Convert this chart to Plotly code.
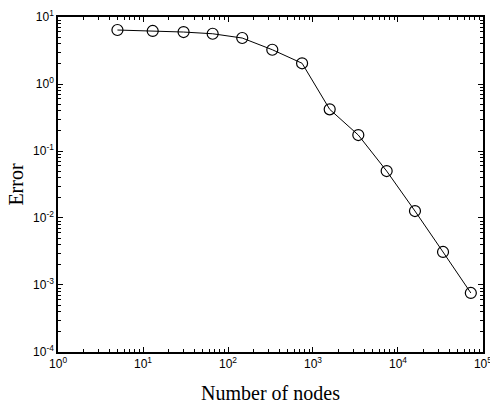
import plotly.graph_objects as go

nodes = [5, 13, 30, 66, 147, 332, 744, 1572, 3414, 7360, 15850, 33900, 72000]
error = [6.4, 6.2, 5.97, 5.63, 4.86, 3.25, 2.04, 0.419, 0.173, 0.0502, 0.0127, 0.00311, 0.00076]

x_tick_exp = [0, 1, 2, 3, 4, 5]
y_tick_exp = [-4, -3, -2, -1, 0, 1]

x_title = "Number of nodes"
y_title = "Error"

fig = go.Figure()
fig.add_trace(go.Scatter(
    x=nodes, y=error, mode="lines+markers",
    line=dict(color="black", width=1),
    marker=dict(symbol="circle-open", size=11, color="black", line=dict(width=1.2, color="black")),
    showlegend=False,
    cliponaxis=False,
))

def axis_common(exps):
    return dict(
        type="log",
        tickmode="array",
        tickvals=[10.0 ** e for e in exps],
        ticktext=["10<sup>%d</sup>" % e for e in exps],
        ticks="inside",
        ticklen=5,
        tickwidth=1,
        tickcolor="black",
        showline=True,
        linecolor="black",
        linewidth=1.5,
        mirror="allticks",
        showgrid=False,
        zeroline=False,
        automargin=False,
        ticklabeloverflow="allow",
        tickfont=dict(family="Liberation Sans, Arial, sans-serif", size=12, color="black"),
        minor=dict(ticks="inside", ticklen=3, tickwidth=1, tickcolor="black", dtick="D1", showgrid=False),
    )

serif = "Liberation Serif, Times New Roman, serif"
fig.update_xaxes(range=[-0.0005, 5.0005], title=dict(text=x_title, font=dict(family=serif, size=20, color="black"), standoff=16), **axis_common(x_tick_exp))
fig.update_yaxes(range=[-4.0005, 1.0005], title=dict(text=y_title, font=dict(family=serif, size=20, color="black"), standoff=4), **axis_common(y_tick_exp))

fig.update_layout(
    width=490, height=406,
    margin=dict(l=58, r=7, t=17, b=54),
    paper_bgcolor="white", plot_bgcolor="white",
)

fig.write_html("out.html")
